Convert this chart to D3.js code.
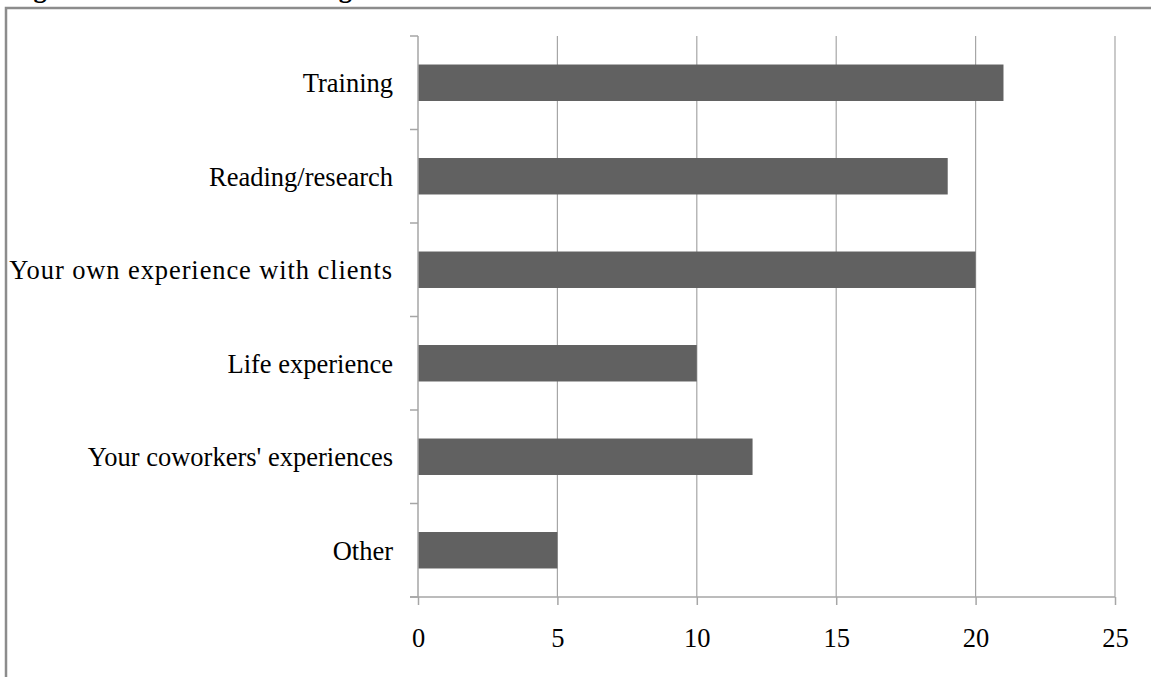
<!DOCTYPE html>
<html>
<head>
<meta charset="utf-8">
<script src="https://cdn.jsdelivr.net/npm/d3@7"></script>
<style>
  html, body { margin: 0; padding: 0; background: #fff; }
  svg { display: block; }
</style>
</head>
<body>
<svg id="chart" width="1151" height="677"></svg>
<script>
// Sources of knowledge: number of respondents per source
const categories = [
  "Training",
  "Reading/research",
  "Your own experience with clients",
  "Life experience",
  "Your coworkers' experiences",
  "Other"
];
const counts = [21, 19, 20, 10, 12, 5];
const tickValues = [0, 5, 10, 15, 20, 25];
const titleText = "Figure 4: Sources of knowledge about mental health and addiction issues";

(function draw() {
  const svg = d3.select("#chart");
  const font = "'Liberation Serif', 'Times New Roman', serif";
  const fontSize = 26.5;

  // Title line sits above the frame, mostly outside the page
  svg.append("text")
    .attr("x", 10).attr("y", -3)
    .attr("font-family", font).attr("font-weight", "bold")
    .attr("font-size", fontSize).attr("fill", "#000")
    .text(titleText);

  // Outer frame
  svg.append("path")
    .attr("d", "M6,677 V8 H1151")
    .attr("fill", "none").attr("stroke", "#8c8c8c").attr("stroke-width", 2.5);

  const plotLeft = 418, plotRight = 1115, plotTop = 36, plotBottom = 597;

  const x = d3.scaleLinear().domain([0, 25]).range([plotLeft, plotRight]);
  const y = d3.scaleBand().domain(categories).range([plotTop, plotBottom]).paddingInner(0.61).paddingOuter(0.305);
  const yBounds = d3.scaleBand().domain(categories).range([plotTop, plotBottom]);

  // Vertical gridlines
  svg.append("g").selectAll("line")
    .data(tickValues.filter(v => v > 0))
    .join("line")
    .attr("x1", d => x(d)).attr("x2", d => x(d))
    .attr("y1", plotTop).attr("y2", plotBottom)
    .attr("stroke", "#a6a6a6").attr("stroke-width", 1.2);

  // Bars
  svg.append("g").selectAll("rect")
    .data(categories)
    .join("rect")
    .attr("x", x(0))
    .attr("y", d => y(d))
    .attr("width", (d, i) => x(counts[i]) - x(0))
    .attr("height", y.bandwidth())
    .attr("fill", "#616161");

  // X axis
  const xAxis = svg.append("g")
    .attr("transform", `translate(0,${plotBottom})`)
    .call(d3.axisBottom(x).tickValues(tickValues).tickSize(8).tickPadding(23).tickSizeOuter(0));
  xAxis.select(".domain").remove();
  xAxis.append("line")
    .attr("x1", plotLeft - 8).attr("x2", plotRight).attr("y1", 0).attr("y2", 0)
    .attr("stroke", "#a6a6a6").attr("stroke-width", 1.5);
  xAxis.selectAll(".tick line").attr("stroke", "#a6a6a6").attr("stroke-width", 1.5);
  xAxis.selectAll(".tick text")
    .attr("font-family", font).attr("font-size", fontSize).attr("fill", "#000");

  // Y axis line with category boundary ticks
  const yAxis = svg.append("g");
  yAxis.append("line")
    .attr("x1", plotLeft).attr("x2", plotLeft).attr("y1", plotTop).attr("y2", plotBottom)
    .attr("stroke", "#a6a6a6").attr("stroke-width", 1.5);
  const boundaries = categories.map(c => yBounds(c)).concat([plotBottom]);
  yAxis.selectAll("line.b")
    .data(boundaries)
    .join("line").attr("class", "b")
    .attr("x1", plotLeft - 8).attr("x2", plotLeft)
    .attr("y1", d => d).attr("y2", d => d)
    .attr("stroke", "#a6a6a6").attr("stroke-width", 1.5);

  // Category labels (the long label is set slightly looser)
  yAxis.selectAll("text")
    .data(categories)
    .join("text")
    .attr("x", 393)
    .attr("y", d => y(d) + y.bandwidth() / 2)
    .attr("dy", "0.35em")
    .attr("text-anchor", "end")
    .attr("font-family", font).attr("font-size", fontSize).attr("fill", "#000")
    .style("letter-spacing", (d, i) => i === 2 ? "0.9px" : null)
    .text(d => d);
})();
</script>
</body>
</html>
